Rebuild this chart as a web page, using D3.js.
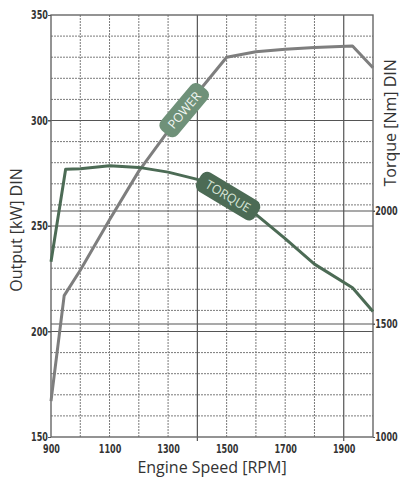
<!DOCTYPE html>
<html>
<head>
<meta charset="utf-8">
<script src="https://cdn.jsdelivr.net/npm/d3@7"></script>
<style>
  html, body { margin: 0; padding: 0; background: #fff; }
  svg { display: block; }
</style>
</head>
<body>
<div id="chart" style="width:400px;height:484px"><svg width="400" height="484"></svg></div>
<script>
// power curve (kW) against engine speed
const powerRpm = [900, 945, 1000, 1100, 1200, 1300, 1400, 1500, 1600, 1700, 1800, 1930, 2000];
const powerKw = [167, 217, 229, 253, 276, 295, 313, 330, 332.6, 333.8, 334.6, 335.3, 325];

// torque curve (Nm) against engine speed
const torqueRpm = [900, 950, 1000, 1100, 1200, 1300, 1400, 1500, 1600, 1700, 1800, 1930, 2000];
const torqueNm = [1775, 2185, 2187, 2200, 2193, 2172, 2140, 2070, 1985, 1878, 1765, 1660, 1555];

const rpmTicks = [900, 1100, 1300, 1500, 1700, 1900];
const kwTicks = [150, 200, 250, 300, 350];
const nmTicks = [1000, 1500, 2000];
const solidRpm = [1400, 1900];
const solidKw = [200, 250, 300];
const solidNm = [1500, 2000];

const labels = [
  { name: "POWER", rpm: 1355, series: "power", angle: -50, len: 60, fill: "#6f9179", text: "#f2f6f2" },
  { name: "TORQUE", rpm: 1505, series: "torque", angle: 31, len: 68, fill: "#4c6b55", text: "#d6e4d6" }
];

const width = 400, height = 484;
const margin = { top: 15, right: 27, bottom: 47, left: 51 };
const tickFont = "'DejaVu Sans Condensed', 'Liberation Sans', sans-serif";
const titleFont = "'Open Sans', 'Noto Sans', sans-serif";

const x = d3.scaleLinear()
  .domain([900, 2000])
  .range([margin.left, width - margin.right]);

const yL = d3.scaleLinear()
  .domain([150, 350])
  .range([height - margin.bottom, margin.top]);

// right axis: 1000 Nm at the bottom, 226 px per 1000 Nm
const yR = d3.scaleLinear()
  .domain([1000, 1000 + (height - margin.bottom - margin.top) / 0.226])
  .range([height - margin.bottom, margin.top]);

const svg = d3.select("#chart").select("svg");

// dashed grid
const grid = svg.append("g")
  .attr("stroke", "#7a7a7a")
  .attr("stroke-width", 1)
  .attr("stroke-dasharray", "2,1");

grid.selectAll("line.v")
  .data(x.ticks(11).filter((d) => d > 900 && d < 2000 && !solidRpm.includes(d)))
  .join("line")
  .attr("class", "v")
  .attr("x1", (d) => x(d)).attr("x2", (d) => x(d))
  .attr("y1", margin.top).attr("y2", height - margin.bottom);

grid.selectAll("line.h")
  .data(yL.ticks(20).filter((d) => d > 150 && d < 350 && !solidKw.includes(d)))
  .join("line")
  .attr("class", "h")
  .attr("x1", margin.left).attr("x2", width - margin.right)
  .attr("y1", (d) => yL(d)).attr("y2", (d) => yL(d));

// solid grid
const solid = svg.append("g")
  .attr("stroke", "#555")
  .attr("stroke-width", 1.2);

solid.selectAll("line.v")
  .data(solidRpm)
  .join("line")
  .attr("class", "v")
  .attr("x1", (d) => x(d)).attr("x2", (d) => x(d))
  .attr("y1", margin.top).attr("y2", height - margin.bottom + 4);

solid.selectAll("line.h")
  .data(solidKw)
  .join("line")
  .attr("class", "h")
  .attr("x1", margin.left - 3).attr("x2", width - margin.right)
  .attr("y1", (d) => yL(d)).attr("y2", (d) => yL(d));

solid.selectAll("line.t")
  .data(solidNm)
  .join("line")
  .attr("class", "t")
  .attr("x1", margin.left).attr("x2", width - margin.right + 2)
  .attr("y1", (d) => yR(d)).attr("y2", (d) => yR(d));

// frame
svg.append("rect")
  .attr("x", margin.left)
  .attr("y", margin.top)
  .attr("width", width - margin.left - margin.right)
  .attr("height", height - margin.top - margin.bottom)
  .attr("fill", "none")
  .attr("stroke", "#666")
  .attr("stroke-width", 1.4);

// curves
const powerData = powerRpm.map((r, i) => [r, powerKw[i]]);
const torqueData = torqueRpm.map((r, i) => [r, torqueNm[i]]);

svg.append("path")
  .datum(powerData)
  .attr("fill", "none")
  .attr("stroke", "#7e7e7e")
  .attr("stroke-width", 3)
  .attr("stroke-linejoin", "round")
  .attr("d", d3.line().x((d) => x(d[0])).y((d) => yL(d[1])));

svg.append("path")
  .datum(torqueData)
  .attr("fill", "none")
  .attr("stroke", "#4c6b55")
  .attr("stroke-width", 3)
  .attr("stroke-linejoin", "round")
  .attr("d", d3.line().x((d) => x(d[0])).y((d) => yR(d[1])));

// curve badges
const badge = svg.append("g")
  .selectAll("g")
  .data(labels)
  .join("g")
  .attr("transform", (d) => {
    const px = x(d.rpm);
    const py = d.series === "power"
      ? yL(d3.scaleLinear().domain(powerRpm).range(powerKw)(d.rpm))
      : yR(d3.scaleLinear().domain(torqueRpm).range(torqueNm)(d.rpm));
    return `translate(${px},${py}) rotate(${d.angle})`;
  });

badge.append("rect")
  .attr("x", (d) => -d.len / 2)
  .attr("y", -11)
  .attr("width", (d) => d.len)
  .attr("height", 22)
  .attr("rx", 7)
  .attr("fill", (d) => d.fill);

badge.append("text")
  .attr("text-anchor", "middle")
  .attr("dy", "0.36em")
  .attr("fill", (d) => d.text)
  .attr("font-family", titleFont)
  .attr("font-size", 12.5)
  .text((d) => d.name);

// axes
svg.append("g").call(xAxis);
svg.append("g").call(yAxisLeft);
svg.append("g").call(yAxisRight);

function styleTicks(g) {
  g.select(".domain").remove();
  g.selectAll(".tick line").attr("stroke", "#555");
  g.selectAll(".tick text")
    .attr("fill", "#333")
    .attr("font-family", tickFont)
    .attr("font-weight", "bold")
    .attr("font-size", 12)
    .attr("transform", "scale(0.75,1)");
}

function xAxis(g) {
  g.attr("transform", `translate(0,${height - margin.bottom})`)
    .call(d3.axisBottom(x).tickValues(rpmTicks).tickSize(0).tickPadding(7).tickFormat(d3.format("d")))
    .call(styleTicks);
  g.append("text")
    .attr("x", (margin.left + width - margin.right) / 2)
    .attr("y", 36)
    .attr("fill", "#333")
    .attr("text-anchor", "middle")
    .attr("font-family", titleFont)
    .attr("font-size", 16)
    .text("Engine Speed [RPM]");
}

function yAxisLeft(g) {
  g.attr("transform", `translate(${margin.left},0)`)
    .call(d3.axisLeft(yL).tickValues(kwTicks).tickSize(3).tickPadding(1).tickFormat(d3.format("d")))
    .call(styleTicks);
  g.append("text")
    .attr("transform", `translate(${-margin.left + 22},${(margin.top + height - margin.bottom) / 2 + 4}) rotate(-90)`)
    .attr("fill", "#333")
    .attr("text-anchor", "middle")
    .attr("font-family", titleFont)
    .attr("font-size", 16)
    .text("Output [kW] DIN");
}

function yAxisRight(g) {
  g.attr("transform", `translate(${width - margin.right},0)`)
    .call(d3.axisRight(yR).tickValues(nmTicks).tickSize(2).tickPadding(1).tickFormat(d3.format("d")))
    .call(styleTicks);
  g.append("text")
    .attr("transform", `translate(${margin.right - 4},${yR(2390)}) rotate(-90)`)
    .attr("fill", "#333")
    .attr("text-anchor", "middle")
    .attr("font-family", titleFont)
    .attr("font-size", 16)
    .text("Torque [Nm] DIN");
}
</script>
</body>
</html>
